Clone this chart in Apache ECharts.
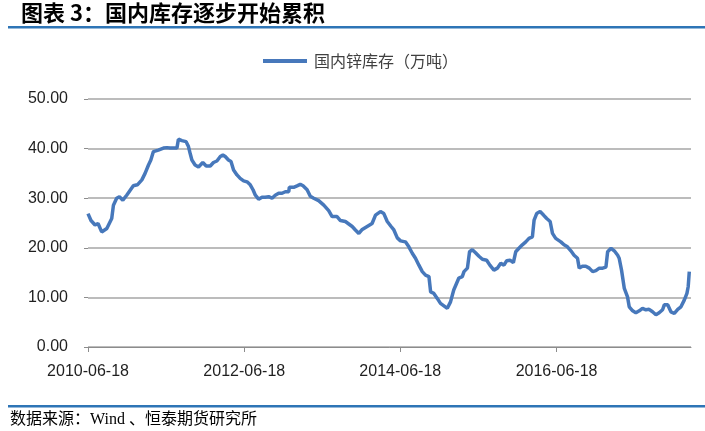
<!DOCTYPE html>
<html>
<head>
<meta charset="utf-8">
<script src="https://cdn.jsdelivr.net/npm/echarts@6/dist/echarts.min.js"></script>
<style>
  html, body { margin: 0; padding: 0; background: #ffffff; }
  #chart { width: 705px; height: 431px; }
</style>
</head>
<body>
<div id="chart"></div>
<script>
// ---- data ----
var titleText = '图表 3：国内库存逐步开始累积';
var sourceText = '数据来源：Wind 、恒泰期货研究所';
var seriesName = '国内锌库存（万吨）';

var dates = [
  '2010-06-18','2010-07-02','2010-07-21','2010-08-04','2010-08-21','2010-09-14','2010-10-07','2010-10-15','2010-10-30','2010-11-12',
  '2010-11-28','2010-12-16','2011-01-16','2011-02-04','2011-02-25','2011-03-12','2011-03-28','2011-04-08','2011-04-20','2011-05-13',
  '2011-06-06','2011-06-22','2011-07-07','2011-08-08','2011-08-15','2011-08-31','2011-09-20','2011-10-01','2011-10-09','2011-10-17',
  '2011-11-01','2011-11-17','2011-12-07','2011-12-23','2012-01-11','2012-01-26','2012-02-11','2012-02-27','2012-03-10','2012-03-21',
  '2012-04-05','2012-04-17','2012-04-29','2012-05-15','2012-05-30','2012-06-15','2012-07-01','2012-07-16','2012-07-29','2012-08-09',
  '2012-08-24','2012-09-09','2012-09-24','2012-10-10','2012-10-26','2012-11-10','2012-11-26','2012-12-12','2012-12-27','2013-01-12',
  '2013-01-15','2013-02-04','2013-02-20','2013-03-07','2013-03-20','2013-04-08','2013-04-23','2013-05-09','2013-06-01','2013-06-25',
  '2013-07-18','2013-08-03','2013-08-26','2013-09-11','2013-10-04','2013-10-20','2013-11-05','2013-11-20','2013-12-06','2013-12-22',
  '2014-01-14','2014-02-06','2014-02-22','2014-03-17','2014-04-02','2014-04-18','2014-05-06','2014-05-19','2014-06-04','2014-06-19',
  '2014-06-27','2014-07-12','2014-07-28','2014-08-13','2014-08-28','2014-09-13','2014-09-29','2014-10-14','2014-10-30','2014-11-07',
  '2014-11-22','2014-12-08','2014-12-23','2015-01-08','2015-01-24','2015-02-08','2015-02-23','2015-03-08','2015-03-19','2015-04-04',
  '2015-04-12','2015-04-28','2015-05-08','2015-05-21','2015-06-05','2015-06-21','2015-07-07','2015-07-27','2015-08-11','2015-08-30',
  '2015-09-15','2015-10-01','2015-10-16','2015-10-29','2015-11-13','2015-11-29','2015-12-10','2015-12-25','2016-01-10','2016-01-26',
  '2016-02-10','2016-02-26','2016-03-05','2016-03-17','2016-04-02','2016-04-18','2016-05-03','2016-05-19','2016-05-30','2016-06-14',
  '2016-07-08','2016-07-23','2016-08-08','2016-08-24','2016-09-08','2016-09-24','2016-10-02','2016-10-17','2016-11-02','2016-11-18',
  '2016-12-04','2016-12-19','2017-01-04','2017-01-20','2017-02-04','2017-02-12','2017-02-28','2017-03-15','2017-03-31','2017-04-07',
  '2017-04-18','2017-05-01','2017-05-16','2017-05-24','2017-06-09','2017-06-24','2017-07-10','2017-07-25','2017-08-10','2017-08-25',
  '2017-09-10','2017-09-26','2017-10-11','2017-10-27','2017-11-04','2017-11-20','2017-12-05','2017-12-21','2018-01-06','2018-01-21',
  '2018-02-06','2018-02-18','2018-02-24','2018-03-01'
];

var values = [
  26.9,25.5,24.6,24.9,23.2,23.9,25.9,28.6,30.0,30.3,
  29.6,30.6,32.5,32.7,33.7,35.0,36.7,37.7,39.4,39.7,
  40.1,40.2,40.1,40.1,41.9,41.6,41.4,40.4,39.0,37.7,
  36.7,36.3,37.2,36.5,36.5,37.2,37.5,38.4,38.7,38.4,
  37.7,37.4,35.7,34.7,34.0,33.5,33.3,32.7,31.7,30.6,
  29.8,30.2,30.2,30.3,30.0,30.6,31.0,31.0,31.3,31.3,
  32.2,32.2,32.5,32.8,32.5,31.7,30.4,30.0,29.5,28.6,
  27.5,26.3,26.3,25.5,25.3,24.8,24.3,23.6,22.9,23.7,
  24.3,24.9,26.6,27.3,26.9,25.3,24.3,23.6,22.0,21.4,
  21.2,21.2,20.2,18.9,17.9,16.5,15.2,14.5,14.2,11.1,
  10.8,9.8,8.8,8.3,7.8,9.1,11.5,12.8,13.9,14.2,
  15.2,15.9,19.2,19.6,19.0,18.3,17.7,17.5,16.5,15.5,
  15.9,16.9,16.5,17.4,17.5,17.0,19.2,19.9,20.6,21.2,
  21.9,22.2,25.6,26.9,27.3,26.6,25.9,25.3,22.9,21.9,
  21.2,20.6,20.2,19.4,18.5,17.9,15.9,16.3,16.3,15.9,
  15.2,15.4,15.9,15.9,16.1,19.2,19.9,19.4,18.5,17.9,
  15.5,11.8,10.1,8.1,7.3,6.9,7.3,7.8,7.5,7.6,
  7.1,6.5,6.9,7.5,8.5,8.5,7.1,6.8,7.6,8.1,
  9.5,10.8,12.2,15.2
];

var xTickDates = ['2010-06-18','2012-06-18','2014-06-18','2016-06-18'];
var xMin = '2010-06-18';
var xMax = '2018-03-09';
var yMin = 0, yMax = 50, yStep = 10;

// ---- build chart ----
function ts(s) {
  var p = s.split('-');
  return new Date(+p[0], +p[1] - 1, +p[2]).getTime();
}
function fmt(v) {
  var d = new Date(v);
  var m = d.getMonth() + 1, dd = d.getDate();
  return d.getFullYear() + '-' + (m < 10 ? '0' : '') + m + '-' + (dd < 10 ? '0' : '') + dd;
}

var seriesData = dates.map(function (d, i) { return [ts(d), values[i]]; });
var tickValues = xTickDates.map(ts);

var latin = 'Liberation Sans, Arial, Noto Sans CJK SC, sans-serif';
var cjk = 'Noto Sans CJK SC, Liberation Sans, sans-serif';

var chart = echarts.init(document.getElementById('chart'));
chart.setOption({
  animation: false,
  backgroundColor: '#ffffff',
  graphic: [
    { type: 'text', left: 21, top: 2,
      style: { text: titleText, font: 'bold 22px ' + cjk, fill: '#000000' } },
    { type: 'rect', shape: { x: 8, y: 26, width: 697, height: 2.5 },
      style: { fill: '#2e75b6' } },
    { type: 'rect', shape: { x: 8, y: 405, width: 697, height: 2.5 },
      style: { fill: '#2e75b6' } },
    { type: 'text', left: 10, top: 412,
      style: { text: sourceText, font: '16px Liberation Serif, Noto Sans CJK SC, serif', fill: '#000000' } }
  ],
  legend: {
    show: true,
    left: 263,
    top: 53,
    padding: 0,
    icon: 'rect',
    itemWidth: 44,
    itemHeight: 4,
    itemGap: 6,
    textStyle: { fontFamily: cjk, fontSize: 16, color: '#404040', padding: [0, 0, 0, 2] },
    data: [seriesName]
  },
  grid: { left: 88, right: 14, top: 99, bottom: 84, containLabel: false },
  xAxis: {
    type: 'value',
    min: ts(xMin),
    max: ts(xMax),
    axisLine: { show: true, lineStyle: { color: '#8c8c8c', width: 1 } },
    axisTick: { show: true, length: 5, customValues: tickValues, lineStyle: { color: '#8c8c8c' } },
    axisLabel: {
      customValues: tickValues,
      formatter: function (v) { return fmt(v); },
      margin: 17,
      fontFamily: latin, fontSize: 16, color: '#1f1f1f'
    },
    splitLine: { show: false }
  },
  yAxis: {
    type: 'value',
    min: yMin, max: yMax, interval: yStep,
    axisLine: { show: false },
    axisTick: { show: true, length: 4, lineStyle: { color: '#8c8c8c' } },
    axisLabel: {
      formatter: function (v) { return v.toFixed(2); },
      margin: 20,
      fontFamily: latin, fontSize: 16, color: '#1f1f1f'
    },
    splitLine: { show: true, lineStyle: { color: '#a6a6a6', width: 1.5 } }
  },
  series: [{
    name: seriesName,
    type: 'line',
    data: seriesData,
    showSymbol: false,
    symbol: 'none',
    lineStyle: { color: '#4778bb', width: 3.5 },
    itemStyle: { color: '#4778bb' }
  }]
});
</script>
</body>
</html>
